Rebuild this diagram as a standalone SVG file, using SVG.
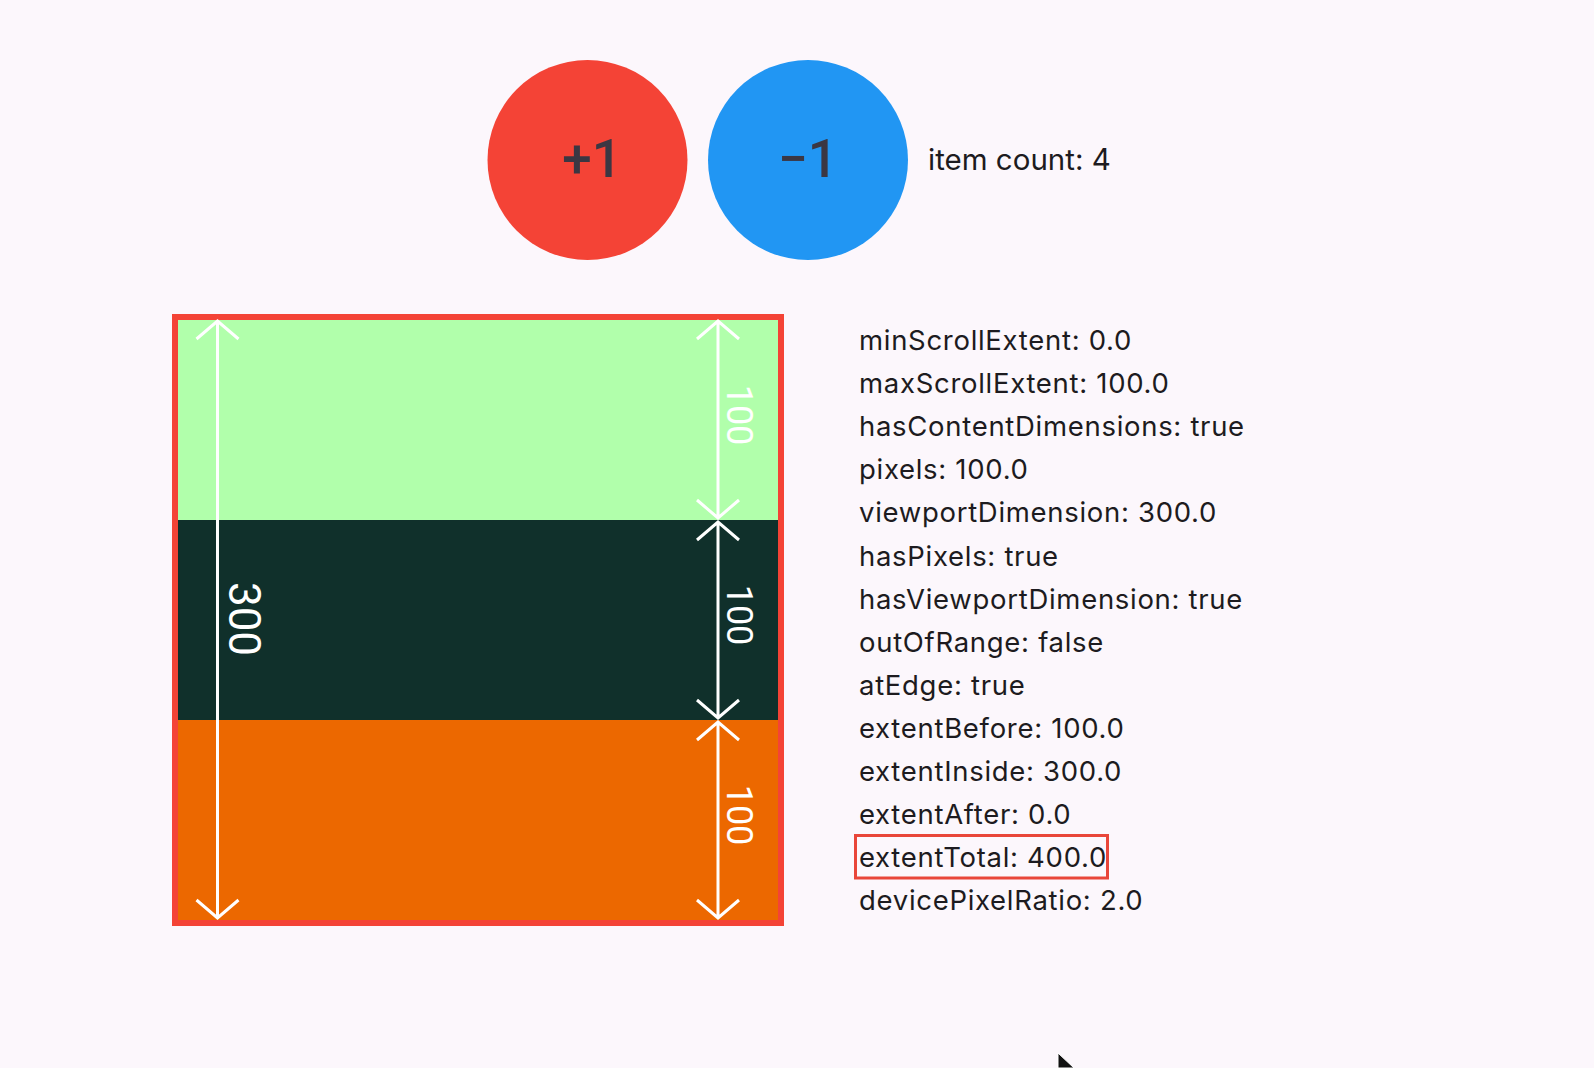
<svg xmlns="http://www.w3.org/2000/svg" width="1594" height="1068" viewBox="0 0 1594 1068">
  <style>
    .btn-label { font-family: Roboto, "Liberation Sans", sans-serif; font-size: 53px; font-weight: 500; fill: #3B3743; text-anchor: middle; }
    .info { font-family: Inter, "Liberation Sans", sans-serif; font-size: 27.5px; letter-spacing: 0.7px; fill: #1D1B20; }
    .count { font-family: Inter, "Liberation Sans", sans-serif; font-size: 29.5px; fill: #1D1B20; }
    .dim { fill: none; stroke: #FFFFFF; stroke-width: 3; }
    .dim-label { font-family: Roboto, "Liberation Sans", sans-serif; fill: #FFFFFF; text-anchor: middle; }
  </style>
  <rect x="0" y="0" width="1594" height="1068" fill="#FCF7FC"/>

  <g id="btn-plus">
    <circle cx="587.5" cy="160" r="100" fill="#F44336"/>
    <text class="btn-label" x="592" y="177">+1</text>
  </g>
  <g id="btn-minus">
    <circle cx="808" cy="160" r="100" fill="#2196F3"/>
    <text class="btn-label" x="808" y="177">−1</text>
  </g>
  <g id="item-count">
    <text class="count" x="928" y="170">item count: 4</text>
  </g>

  <g id="viewport">
    <rect x="178" y="320" width="600" height="200" fill="#B1FFAB"/>
    <rect x="178" y="520" width="600" height="200" fill="#10302B"/>
    <rect x="178" y="720" width="600" height="200" fill="#EC6800"/>
    <rect x="175" y="317" width="606" height="606" fill="none" stroke="#F44336" stroke-width="6"/>
  </g>

  <g id="connectors">
    <path class="dim" d="M217.5,321 V918 M196.5,339 L217.5,321 L238.5,339 M196.5,900 L217.5,918 L238.5,900"/>
    <path class="dim" d="M718,321 V518 M697,339 L718,321 L739,339 M697,500 L718,518 L739,500"/>
    <path class="dim" d="M718,522 V718 M697,540 L718,522 L739,540 M697,700 L718,718 L739,700"/>
    <path class="dim" d="M718,722 V918 M697,740 L718,722 L739,740 M697,900 L718,918 L739,900"/>
    <text class="dim-label" font-size="44" transform="translate(229,619) rotate(90)">300</text>
    <text class="dim-label" font-size="36" transform="translate(727,415) rotate(90)">100</text>
    <text class="dim-label" font-size="36" transform="translate(727,615) rotate(90)">100</text>
    <text class="dim-label" font-size="36" transform="translate(727,815) rotate(90)">100</text>
  </g>

  <g id="info">
    <text class="info" x="859" y="350">minScrollExtent: 0.0</text>
    <text class="info" x="859" y="393.1">maxScrollExtent: 100.0</text>
    <text class="info" x="859" y="436.2">hasContentDimensions: true</text>
    <text class="info" x="859" y="479.3">pixels: 100.0</text>
    <text class="info" x="859" y="522.4">viewportDimension: 300.0</text>
    <text class="info" x="859" y="565.5">hasPixels: true</text>
    <text class="info" x="859" y="608.6">hasViewportDimension: true</text>
    <text class="info" x="859" y="651.7">outOfRange: false</text>
    <text class="info" x="859" y="694.8">atEdge: true</text>
    <text class="info" x="859" y="737.9">extentBefore: 100.0</text>
    <text class="info" x="859" y="781">extentInside: 300.0</text>
    <text class="info" x="859" y="824.1">extentAfter: 0.0</text>
    <text class="info" x="859" y="867.2">extentTotal: 400.0</text>
    <text class="info" x="859" y="910.3">devicePixelRatio: 2.0</text>
  </g>
  <g id="highlight">
    <rect x="855.5" y="835.5" width="252" height="42.5" fill="none" stroke="#E9463A" stroke-width="3"/>
  </g>

  <g id="cursor">
    <polygon points="1058,1053 1058,1068 1074,1068" fill="#111111" stroke="#FFFFFF" stroke-width="1"/>
  </g>
</svg>
